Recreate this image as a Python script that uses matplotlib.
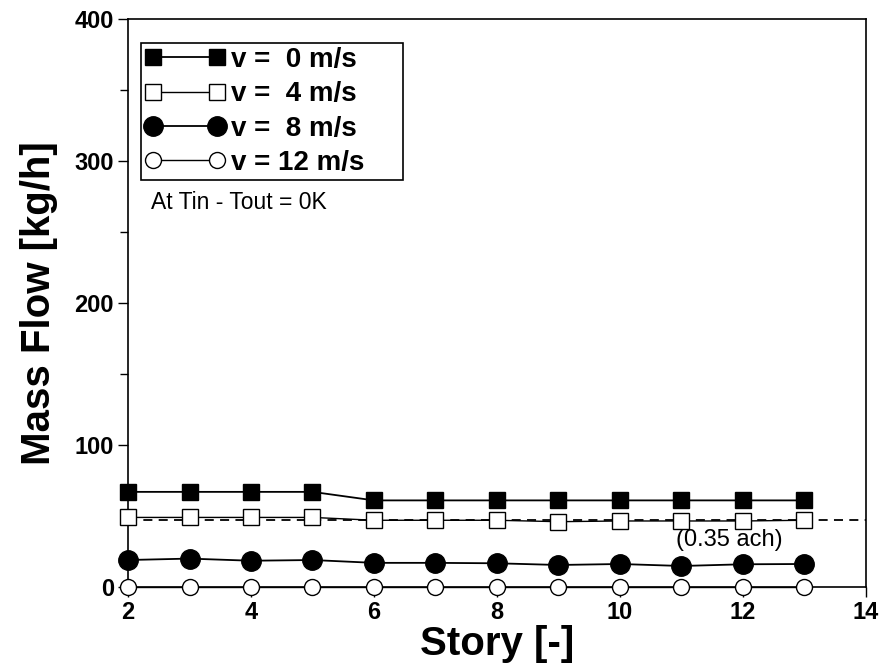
import matplotlib.pyplot as plt
from matplotlib.ticker import MultipleLocator

plt.rcParams['font.family'] = ['Liberation Sans', 'DejaVu Sans']

story = [2, 3, 4, 5, 6, 7, 8, 9, 10, 11, 12, 13]
flow_v0 = [67, 67, 67, 67, 61, 61, 61, 61, 61, 61, 61, 61]
flow_v4 = [49, 49, 49, 49, 47, 47, 47, 46, 46.5, 46.5, 46.5, 47]
flow_v8 = [19, 20, 18.5, 19, 17, 17, 16.7, 15.5, 16.2, 14.8, 16, 16.2]
flow_v12 = [0, 0, 0, 0, 0, 0, 0, 0, 0, 0, 0, 0]
ach_line = 47  # 0.35 ach

labels = ["v =  0 m/s", "v =  4 m/s", "v =  8 m/s", "v = 12 m/s"]

fig = plt.figure(figsize=(8.84, 6.65), dpi=100)
ax = fig.add_axes([0.1448, 0.1173, 0.8348, 0.854])

ax.plot([2, 14], [ach_line, ach_line], color="black", lw=1.3,
        ls=(0, (5, 3.5)), zorder=1, clip_on=False)

ax.plot(story, flow_v0, color="black", lw=1.3, marker="s", ms=12,
        mfc="black", mec="black", label=labels[0], clip_on=False, zorder=3)
ax.plot(story, flow_v4, color="black", lw=1.0, marker="s", ms=11.5,
        mfc="white", mec="black", label=labels[1], clip_on=False, zorder=3)
ax.plot(story, flow_v8, color="black", lw=1.3, marker="o", ms=14,
        mfc="black", mec="black", label=labels[2], clip_on=False, zorder=3)
ax.plot(story, flow_v12, color="black", lw=1.0, marker="o", ms=11.5,
        mfc="white", mec="black", label=labels[3], clip_on=False, zorder=3)

ax.text(11.77, 33, "(0.35 ach)", fontsize=17, ha="center", va="center")
ax.text(2.38, 271, "At Tin - Tout = 0K", fontsize=16.5, ha="left", va="center")

ax.set_xlim(2, 14)
ax.set_ylim(0, 400)
ax.xaxis.set_major_locator(MultipleLocator(2))
ax.yaxis.set_major_locator(MultipleLocator(100))
ax.yaxis.set_minor_locator(MultipleLocator(50))
ax.tick_params(axis="both", which="major", direction="out", length=7, width=1,
               labelsize=17, pad=3)
ax.tick_params(axis="y", which="minor", direction="out", length=6, width=1)
for lbl in ax.get_xticklabels() + ax.get_yticklabels():
    lbl.set_fontweight("bold")

ax.set_xlabel("Story [-]", fontsize=29, fontweight="bold", labelpad=1)
ax.set_ylabel("Mass Flow [kg/h]", fontsize=29, fontweight="bold", labelpad=12)

leg = ax.legend(loc="upper left", bbox_to_anchor=(0.0176, 0.5, 0.355, 0.458),
                mode="expand", numpoints=2, handlelength=2.9,
                handletextpad=0.2, borderpad=0.15, labelspacing=0.3,
                borderaxespad=0, fancybox=False, edgecolor="black",
                framealpha=1, prop={"weight": "bold", "size": 20})
leg.get_frame().set_linewidth(1.2)

for s in ax.spines.values():
    s.set_linewidth(1.2)

plt.savefig("out.png", dpi=100)
